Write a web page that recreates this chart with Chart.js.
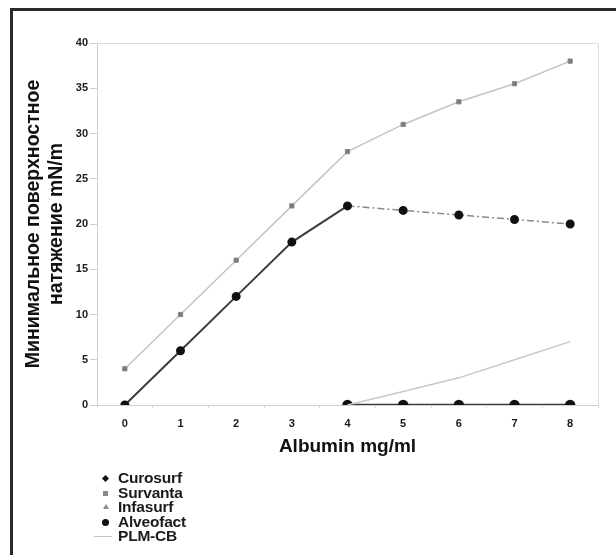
<!DOCTYPE html>
<html>
<head>
<meta charset="utf-8">
<script src="https://cdn.jsdelivr.net/npm/chart.js@4/dist/chart.umd.min.js"></script>
<style>
  html, body { margin: 0; padding: 0; background: #fff; width: 616px; height: 555px; overflow: hidden; }
  #frame { position: absolute; left: 10px; top: 8px; width: 700px; height: 700px;
           border-left: 3px solid #2a2a2a; border-top: 3px solid #2a2a2a; }
  #c { position: absolute; left: 0; top: 0; }
  #legend { position: absolute; left: 94px; top: 471px; font-family: "Liberation Sans", Arial, sans-serif;
            font-weight: bold; font-size: 15.5px; color: #1a1a1a; line-height: 14.5px; letter-spacing: -0.2px; }
  .item { position: relative; height: 14.5px; padding-left: 24px; white-space: nowrap; }
  .mk { position: absolute; }
</style>
</head>
<body>
<div id="frame"></div>
<canvas id="c" width="616" height="470"></canvas>
<div id="legend"></div>
<script>
const categories = ['0', '1', '2', '3', '4', '5', '6', '7', '8'];
const yTicks = [0, 5, 10, 15, 20, 25, 30, 35, 40];
const seriesNames = ['Curosurf', 'Survanta', 'Infasurf', 'Alveofact', 'PLM-CB'];
const curosurf  = [0, 6, 12, 18, 22, 21.5, 21, 20.5, 20];
const survanta  = [4, 10, 16, 22, 28, 31, 33.5, 35.5, 38];
const infasurf  = [null, null, null, null, null, null, null, null, null];
const alveofact = [null, null, null, null, 0, 0, 0, 0, 0];
const plmcb     = [null, null, null, null, 0, 1.5, 3, 5, 7];

const frameBox = {
  id: 'frameBox',
  beforeDatasetsDraw(chart) {
    const a = chart.chartArea, ctx = chart.ctx;
    ctx.save();
    ctx.strokeStyle = '#dcdcdc';
    ctx.lineWidth = 1;
    ctx.beginPath();
    ctx.moveTo(a.left, a.top + 0.5);
    ctx.lineTo(a.right + 0.5, a.top + 0.5);
    ctx.lineTo(a.right + 0.5, a.bottom);
    ctx.stroke();
    ctx.restore();
  }
};

const tickFont = { family: '"Liberation Sans", Arial, sans-serif', size: 11, weight: 'bold' };

new Chart(document.getElementById('c'), {
  type: 'line',
  data: {
    labels: categories,
    datasets: [
      { label: seriesNames[1], data: survanta, borderColor: '#c4c4c4', borderWidth: 1.5,
        pointStyle: 'rect', pointRadius: 3, pointBackgroundColor: '#7a7a7a', pointBorderColor: '#8a8a8a', pointBorderWidth: 1 },
      { label: seriesNames[4], data: plmcb, borderColor: '#c8c8c8', borderWidth: 1.5, pointRadius: 0 },
      { label: seriesNames[2], data: infasurf, borderColor: '#aaa', borderWidth: 1, pointStyle: 'triangle', pointRadius: 3, pointBackgroundColor: '#888' },
      { label: seriesNames[3], data: alveofact, borderColor: '#3a3a3a', borderWidth: 2.5,
        pointStyle: 'circle', pointRadius: 4, pointBackgroundColor: '#111', pointBorderColor: '#111' },
      { label: seriesNames[0], data: curosurf, borderColor: '#3c3c3c', borderWidth: 2,
        pointStyle: 'circle', pointRadius: 3.5, pointBackgroundColor: '#111', pointBorderColor: '#111',
        segment: {
          borderDash: ctx => ctx.p0DataIndex >= 4 ? [7, 3, 2, 3] : undefined,
          borderColor: ctx => ctx.p0DataIndex >= 4 ? '#8a8a8a' : undefined,
          borderWidth: ctx => ctx.p0DataIndex >= 4 ? 1.5 : undefined
        } }
    ]
  },
  options: {
    responsive: false,
    animation: false,
    devicePixelRatio: 1,
    spanGaps: false,
    layout: { padding: { left: 0, top: 43, right: 18, bottom: 0 } },
    plugins: { legend: { display: false }, tooltip: { enabled: false } },
    scales: {
      x: {
        type: 'category',
        offset: true,
        border: { color: '#cfcfcf', width: 1 },
        grid: { display: true, drawOnChartArea: false, offset: true, tickLength: 3, color: '#d8d8d8' },
        ticks: { font: tickFont, color: '#1a1a1a', padding: 9, maxRotation: 0 },
        title: { display: true, text: 'Albumin mg/ml', color: '#111',
                 font: { family: '"Liberation Sans", Arial, sans-serif', size: 19, weight: 'bold' },
                 padding: { top: 0, bottom: 12 } },
        afterFit(scale) { scale.height = 65; }
      },
      y: {
        min: 0, max: 40,
        border: { color: '#cfcfcf', width: 1 },
        grid: { display: true, drawOnChartArea: false, tickLength: 7, color: '#cfcfcf' },
        afterBuildTicks(scale) { scale.ticks = yTicks.map(v => ({ value: v })); },
        ticks: { font: tickFont, color: '#1a1a1a', padding: 2 },
        title: { display: true, text: ['Минимальное поверхностное', 'натяжение mN/m'], color: '#111',
                 font: { family: '"Liberation Sans", Arial, sans-serif', size: 19.5, weight: 'bold', lineHeight: 1.18 },
                 padding: { top: 22, bottom: 0 } },
        afterFit(scale) { scale.width = 97; }
      }
    }
  },
  plugins: [frameBox]
});

// HTML legend built from the series names
const legendMarks = {
  'Curosurf':  '<span class="mk" style="left:9px;top:5px;width:5px;height:5px;background:#111;transform:rotate(45deg);"></span>',
  'Survanta':  '<span class="mk" style="left:9px;top:5px;width:5px;height:5px;background:#8a8a8a;"></span>',
  'Infasurf':  '<span class="mk" style="left:9px;top:4px;width:0;height:0;border-left:3px solid transparent;border-right:3px solid transparent;border-bottom:5px solid #8a8a8a;"></span>',
  'Alveofact': '<span class="mk" style="left:8px;top:4px;width:7px;height:7px;border-radius:50%;background:#111;"></span>',
  'PLM-CB':    '<span class="mk" style="left:0px;top:7px;width:18px;height:1px;background:#c4c4c4;"></span>'
};
document.getElementById('legend').innerHTML = seriesNames.map(n =>
  '<div class="item">' + legendMarks[n] + n + '</div>').join('');
</script>
</body>
</html>
